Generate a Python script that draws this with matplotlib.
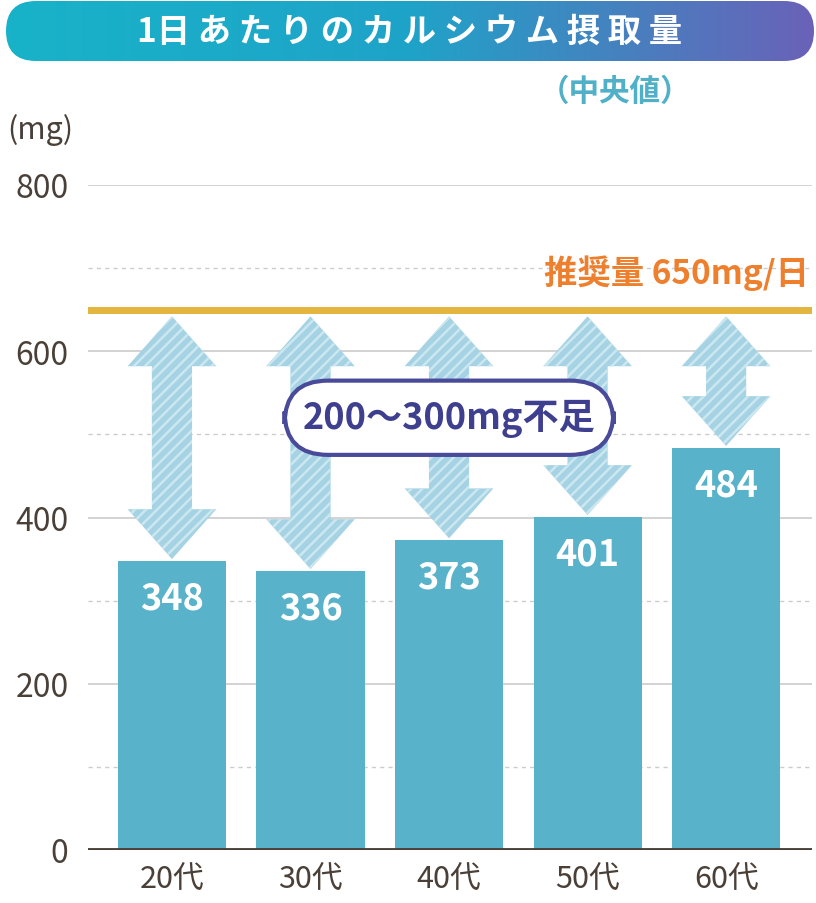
import numpy as np
import matplotlib.pyplot as plt
from matplotlib.patches import Polygon, FancyBboxPatch
from matplotlib.colors import LinearSegmentedColormap

plt.rcParams['font.family'] = ['Noto Sans CJK JP', 'DejaVu Sans']
plt.rcParams['hatch.linewidth'] = 1.8

categories = ['20代', '30代', '40代', '50代', '60代']
values = [348, 336, 373, 401, 484]
recommended = 650
yticks = [0, 200, 400, 600, 800]
title = '1日あたりのカルシウム摂取量'

W, H = 816, 904
fig = plt.figure(figsize=(W / 100, H / 100), dpi=100)
ax = fig.add_axes([88 / W, 1 - 851 / H, 724 / W, 665 / H])
x = np.arange(len(categories))
ax.set_xlim(-0.606, 4.62)
ax.set_ylim(0, 800)

for y in range(100, 801, 100):
    if y % 200 == 0:
        ax.axhline(y, color='#cccccc', lw=1.2, zorder=0)
    else:
        ax.axhline(y, color='#cccccc', lw=1, ls=(0, (3, 3)), zorder=0)

ax.bar(x, values, width=0.78, color='#58b2c9', zorder=2)
for xi, v in zip(x, values):
    ax.text(xi, v - 45, str(v), ha='center', va='center', color='white',
            fontsize=26, fontweight='bold', zorder=4)

# double arrows between recommended and bar top
sw, hw, hl = 0.145, 0.32, 60
for xi, v in zip(x, values):
    top, bot = recommended - 8, v + 2
    pts = [(xi, top), (xi + hw, top - hl), (xi + sw, top - hl), (xi + sw, bot + hl),
           (xi + hw, bot + hl), (xi, bot), (xi - hw, bot + hl), (xi - sw, bot + hl),
           (xi - sw, top - hl), (xi - hw, top - hl)]
    ax.add_patch(Polygon(pts, closed=True, facecolor='#a6d3e4', edgecolor='#cbe7f0',
                         hatch='///', lw=0, zorder=3))

ax.axhline(recommended, color='#e3b53e', lw=5, zorder=3)
ax.text(4.6, recommended + 45, '推奨量 650mg/日', ha='right', va='center',
        color='#ee7f2d', fontsize=24, fontweight='bold')
ax.text(2.0, 520, '200〜300mg不足', ha='center', va='center', color='#3f3f8f',
        fontsize=26, fontweight='bold', zorder=6,
        bbox=dict(boxstyle='round,pad=0.5,rounding_size=1.2', fc='white',
                  ec='#4a4a9a', lw=3))

ax.axhline(0, color='#4a4038', lw=3.5, zorder=5)
for s in ax.spines.values():
    s.set_visible(False)
ax.set_yticks(yticks)
ax.set_yticklabels([str(t) for t in yticks], fontsize=23, color='#4a4038')
ax.set_xticks(x)
ax.set_xticklabels(categories, fontsize=22, color='#4a4038')
ax.tick_params(length=0, pad=10)
ax.tick_params(axis='y', pad=14)
fig.text(40 / W, 1 - 130 / H, '(mg)', ha='center', va='center', fontsize=22, color='#4a4038')
fig.text(615 / W, 1 - 92 / H, '（中央値）', ha='center', va='center', fontsize=22,
         color='#4fb0c8', fontweight='bold')

# title banner with gradient
bax = fig.add_axes([0, 1 - 64 / H, 1, 64 / H])
bax.set_xlim(0, W)
bax.set_ylim(0, 64)
bax.axis('off')
grad = np.linspace(0, 1, 256)[None, :]
cmap = LinearSegmentedColormap.from_list('g', ['#18b3c8', '#1fa3c8', '#6a62b8'])
im = bax.imshow(grad, cmap=cmap, extent=[6, 814, 2, 62], aspect='auto')
clip = FancyBboxPatch((6, 2), 808, 60, boxstyle='round,pad=0,rounding_size=30',
                      transform=bax.transData, fc='none', ec='none')
bax.add_patch(clip)
im.set_clip_path(clip)
bax.text(410, 32, ' '.join(title).replace('1 日', '1日'), ha='center', va='center',
         color='white', fontsize=24, fontweight='bold')

fig.savefig('out.png', dpi=100)
